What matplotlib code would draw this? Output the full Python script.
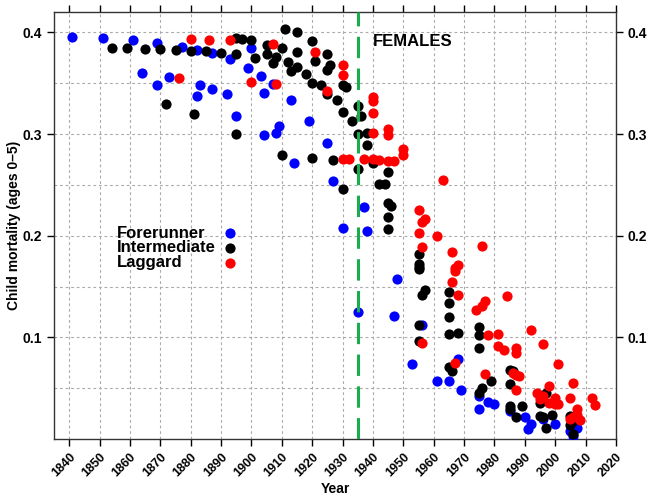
import matplotlib.pyplot as plt
import numpy as np

plt.rcParams['font.family'] = ['Liberation Sans', 'DejaVu Sans']
plt.rcParams['font.weight'] = 'bold'

# Forerunner (blue)
fore_year = [1841, 1851, 1861, 1869, 1877, 1882, 1887, 1893, 1900, 1899, 1903, 1907,
             1864, 1869, 1873, 1883, 1882, 1887, 1892, 1904, 1895, 1913, 1919, 1909,
             1908, 1904, 1914, 1925, 1927, 1930, 1937, 1938, 1935, 1947, 1948, 1953,
             1956, 1961, 1965, 1968, 1969, 1975, 1975, 1978, 1980, 1985, 1990, 1991,
             1992, 1996, 2000, 2005, 2006, 2007]
fore_val = [0.395, 0.394, 0.392, 0.390, 0.386, 0.383, 0.380, 0.374, 0.385, 0.365, 0.357, 0.349,
            0.360, 0.348, 0.356, 0.348, 0.337, 0.344, 0.339, 0.340, 0.318, 0.333, 0.313, 0.308,
            0.301, 0.299, 0.271, 0.291, 0.254, 0.208, 0.228, 0.205, 0.125, 0.121, 0.157, 0.074,
            0.112, 0.057, 0.057, 0.079, 0.048, 0.042, 0.030, 0.036, 0.034, 0.028, 0.022, 0.010,
            0.015, 0.020, 0.015, 0.008, 0.003, 0.011]

# Intermediate (black)
inter_year = [1854, 1859, 1865, 1870, 1875, 1880, 1885, 1890, 1895, 1897, 1900, 1895,
              1901, 1905, 1905, 1908, 1907, 1910, 1911, 1915, 1912, 1913, 1915, 1915,
              1918, 1920, 1921, 1920, 1923, 1925, 1926, 1925, 1925, 1928, 1930, 1931,
              1930, 1933, 1935, 1936, 1935, 1938, 1938, 1872, 1881, 1895, 1910, 1920,
              1927, 1930, 1935, 1940, 1945, 1942, 1944, 1945, 1946, 1945, 1945, 1955,
              1955, 1955, 1955, 1957, 1956, 1955, 1955, 1965, 1965, 1965, 1965, 1968,
              1965, 1966, 1975, 1975, 1975, 1979, 1976, 1975, 1985, 1986, 1985, 1985,
              1985, 1987, 1989, 1995, 1995, 1996, 1999, 1997, 1997, 2005, 2006, 2006,
              2005]
inter_val = [0.385, 0.385, 0.384, 0.384, 0.383, 0.382, 0.382, 0.380, 0.394, 0.393, 0.392, 0.379,
             0.375, 0.388, 0.379, 0.376, 0.370, 0.385, 0.403, 0.400, 0.371, 0.362, 0.366, 0.381,
             0.359, 0.391, 0.372, 0.350, 0.348, 0.379, 0.368, 0.363, 0.339, 0.333, 0.348, 0.346,
             0.322, 0.313, 0.328, 0.318, 0.300, 0.301, 0.289, 0.330, 0.320, 0.300, 0.279, 0.276,
             0.274, 0.246, 0.266, 0.271, 0.263, 0.251, 0.251, 0.232, 0.229, 0.218, 0.207, 0.182,
             0.172, 0.169, 0.167, 0.147, 0.142, 0.112, 0.096, 0.145, 0.134, 0.120, 0.103, 0.104,
             0.071, 0.067, 0.110, 0.102, 0.090, 0.057, 0.050, 0.045, 0.068, 0.067, 0.054, 0.032,
             0.030, 0.022, 0.032, 0.035, 0.023, 0.022, 0.024, 0.011, 0.045, 0.023, 0.018, 0.005,
             0.014]

# Laggard (red)
lag_year = [1876, 1880, 1886, 1893, 1900, 1907, 1908, 1921, 1925, 1930, 1930, 1940,
            1940, 1940, 1940, 1945, 1945, 1950, 1950, 1930, 1932, 1937, 1940, 1942,
            1945, 1947, 1963, 1955, 1957, 1956, 1955, 1961, 1956, 1966, 1976, 1968,
            1967, 1967, 1966, 1968, 1984, 1977, 1976, 1974, 1992, 1978, 1981, 1981,
            1983, 1987, 1987, 1996, 1956, 1967, 2001, 1977, 1986, 1987, 1988, 1987,
            1998, 2006, 1994, 1995, 1996, 2000, 2000, 2001, 1998, 2005, 2007, 2007,
            2006, 2005, 2008, 2012, 2013]
lag_val = [0.355, 0.393, 0.392, 0.392, 0.351, 0.389, 0.349, 0.381, 0.342, 0.368, 0.358, 0.336,
           0.332, 0.321, 0.301, 0.305, 0.299, 0.285, 0.279, 0.275, 0.275, 0.275, 0.275, 0.274,
           0.273, 0.273, 0.255, 0.225, 0.216, 0.213, 0.203, 0.200, 0.189, 0.184, 0.190, 0.171,
           0.168, 0.165, 0.154, 0.142, 0.141, 0.136, 0.131, 0.127, 0.107, 0.102, 0.103, 0.091,
           0.088, 0.090, 0.085, 0.093, 0.094, 0.075, 0.074, 0.064, 0.065, 0.063, 0.062, 0.048,
           0.052, 0.055, 0.045, 0.039, 0.042, 0.040, 0.034, 0.034, 0.035, 0.040, 0.030, 0.024,
           0.022, 0.020, 0.019, 0.040, 0.033]

groups = ['Forerunner', 'Intermediate', 'Laggard']
year_ticks = list(range(1840, 2021, 10))
mort_ticks = [0.1, 0.2, 0.3, 0.4]

fig = plt.figure(figsize=(6.5, 4.96), dpi=100)
ax = fig.add_axes([0.0831, 0.1149, 0.8646, 0.8609])

ms = 54
h1 = ax.scatter(fore_year, fore_val, s=ms, color='#0000ff', lw=0, zorder=3)
h2 = ax.scatter(inter_year, inter_val, s=ms, color='black', lw=0, zorder=3)
h3 = ax.scatter(lag_year, lag_val, s=ms, color='#ff0000', lw=0, zorder=3)

ax.axvline(1935, color='#1aad4e', lw=2.2, linestyle=(0, (7, 3.4)), zorder=4)

ax.set_xlim(1835, 2020)
ax.set_ylim(0, 0.42)
ax.set_xticks(year_ticks)
ax.set_yticks(mort_ticks)
ax.set_yticks([0.05, 0.15, 0.25, 0.35], minor=True)
ax.set_xticklabels([str(y) for y in year_ticks], rotation=45, ha='right',
                   rotation_mode='anchor', fontsize=9, fontweight='bold')
ax.set_yticklabels([str(v) for v in mort_ticks], fontsize=10, fontweight='bold')
ax.tick_params(axis='both', which='major', direction='out', length=5, width=1,
               top=True, right=True, labelright=True, labeltop=False)
ax.tick_params(axis='y', which='minor', length=0)
ax.grid(True, which='both', color='#aaaaaa', linestyle=(0, (2.5, 2.5)), lw=0.8)
ax.set_axisbelow(True)
for sp in ax.spines.values():
    sp.set_color('#333333')
    sp.set_linewidth(1)

ax.set_xlabel('Year', fontsize=10, fontweight='bold', labelpad=2)
ax.set_ylabel('Child mortality (ages 0\u20135)', fontsize=10, fontweight='bold', labelpad=1.5)

ax.text(1953.1, 0.3907, 'FEMALES', fontsize=12, fontweight='bold', ha='center', va='center')

# legend: labels on the left, marker column on the right
for i, g in enumerate(groups):
    ax.text(1855.6, 0.2025 - i * 0.0145, g, fontsize=12, fontweight='bold',
            ha='left', va='center', linespacing=1)
leg = ax.legend([h1, h2, h3], [' ', ' ', ' '], loc='center',
                bbox_to_anchor=(0.3505, 0.4994), bbox_transform=fig.transFigure,
                frameon=False, markerfirst=False, prop={'size': 12, 'weight': 'bold'},
                handletextpad=0, labelspacing=0.0, borderpad=0, handlelength=1.0)

fig.savefig('out.png', dpi=100)
